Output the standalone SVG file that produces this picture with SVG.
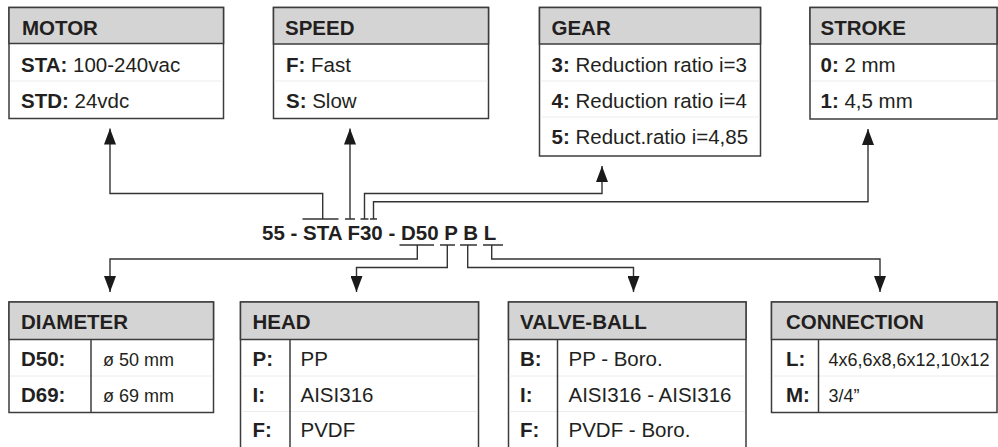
<svg xmlns="http://www.w3.org/2000/svg" width="998" height="447" viewBox="0 0 998 447">
<defs>
<style>
.box{fill:#ffffff;stroke:#3c3c3c;stroke-width:1.5}
.hdr{fill:#d4d4d4;stroke:#3c3c3c;stroke-width:1.5}
.sep{stroke:#ececec;stroke-width:1}
.col{stroke:#3c3c3c;stroke-width:1.5}
.t{font-family:"Liberation Sans",Arial,Helvetica,sans-serif;font-size:20.5px;fill:#231f20}
.b{font-weight:bold}
.s{font-size:18px}
.wire{fill:none;stroke:#333333;stroke-width:1.4}
.bar{fill:none;stroke:#333333;stroke-width:1.4}
</style>
<marker id="arr" markerUnits="userSpaceOnUse" markerWidth="16" markerHeight="12" refX="16" refY="6" orient="auto">
<path d="M0,0 L16,6 L0,12 z" fill="#1a1a1a"/>
</marker>
</defs>
<rect x="0" y="0" width="998" height="447" fill="#ffffff"/>

<g id="motor">
<rect class="box" x="9" y="7.5" width="214.5" height="111"/>
<rect class="hdr" x="9" y="7.5" width="214.5" height="36"/>
<line class="sep" x1="10" y1="81" x2="222.5" y2="81"/>
<text class="t b" x="22" y="35">MOTOR</text>
<text class="t" x="21" y="72"><tspan class="b">STA:</tspan> 100-240vac</text>
<text class="t" x="21" y="107.5"><tspan class="b">STD:</tspan> 24vdc</text>
</g>

<g id="speed">
<rect class="box" x="273.5" y="7.5" width="215" height="111"/>
<rect class="hdr" x="273.5" y="7.5" width="215" height="36.5"/>
<line class="sep" x1="274.5" y1="81" x2="487.5" y2="81"/>
<text class="t b" x="285" y="35">SPEED</text>
<text class="t" x="286" y="72"><tspan class="b">F:</tspan> Fast</text>
<text class="t" x="286" y="107.5"><tspan class="b">S:</tspan> Slow</text>
</g>

<g id="gear">
<rect class="box" x="539.5" y="7.5" width="221" height="148.5"/>
<rect class="hdr" x="539.5" y="7.5" width="221" height="36.5"/>
<line class="sep" x1="540.5" y1="81" x2="759.5" y2="81"/>
<line class="sep" x1="540.5" y1="117" x2="759.5" y2="117"/>
<text class="t b" x="551.5" y="35">GEAR</text>
<text class="t" x="551.5" y="72"><tspan class="b">3:</tspan> Reduction ratio i=3</text>
<text class="t" x="551.5" y="107.5"><tspan class="b">4:</tspan> Reduction ratio i=4</text>
<text class="t" x="551.5" y="143.5"><tspan class="b">5:</tspan> Reduct.ratio i=4,85</text>
</g>

<g id="stroke">
<rect class="box" x="810" y="7.5" width="187" height="111.5"/>
<rect class="hdr" x="810" y="7.5" width="187" height="36.5"/>
<line class="sep" x1="811" y1="81" x2="996" y2="81"/>
<text class="t b" x="820.5" y="35">STROKE</text>
<text class="t" x="820.5" y="72"><tspan class="b">0:</tspan> 2 mm</text>
<text class="t" x="820.5" y="107.5"><tspan class="b">1:</tspan> 4,5 mm</text>
</g>

<g id="code">
<text class="t b" x="262" y="239.5">55 - STA F30 - D50 P B L</text>
</g>

<g id="connectors">
<path class="bar" d="M302.5,219 H338.5 M345,219 H355 M360.5,219 H368.5 M370,219 H377"/>
<path class="bar" d="M399.5,245 H434 M440,245 H455 M460,245 H477 M483,245 H503"/>
<path class="wire" d="M322.7,219 V193.5 H110 V128.5" marker-end="url(#arr)"/>
<path class="wire" d="M350,219 V128.5" marker-end="url(#arr)"/>
<path class="wire" d="M364.5,219 V193.5 H602 V166" marker-end="url(#arr)"/>
<path class="wire" d="M373.5,219 V201.7 H868 V129" marker-end="url(#arr)"/>
<path class="wire" d="M417.3,245 V259 H110 V292" marker-end="url(#arr)"/>
<path class="wire" d="M447.3,245 V267.5 H356.5 V292" marker-end="url(#arr)"/>
<path class="wire" d="M467.7,245 V267.5 H633.5 V292" marker-end="url(#arr)"/>
<path class="wire" d="M491.7,245 V259 H880 V292" marker-end="url(#arr)"/>
</g>

<g id="diameter">
<rect class="box" x="9" y="302" width="204.5" height="110.5"/>
<rect class="hdr" x="9" y="302" width="204.5" height="37.5"/>
<line class="sep" x1="10" y1="376" x2="212.5" y2="376"/>
<line class="col" x1="91" y1="339.5" x2="91" y2="412.5"/>
<text class="t b" x="21" y="328.5">DIAMETER</text>
<text class="t b" x="21" y="366">D50:</text>
<text class="t b" x="21" y="401.5">D69:</text>
<text class="t s" x="103" y="366">ø 50 mm</text>
<text class="t s" x="103" y="401.5">ø 69 mm</text>
</g>

<g id="head">
<rect class="box" x="240.5" y="302" width="238" height="150"/>
<rect class="hdr" x="240.5" y="302" width="238" height="37.5"/>
<line class="sep" x1="241.5" y1="376" x2="477.5" y2="376"/>
<line class="sep" x1="241.5" y1="411.5" x2="477.5" y2="411.5"/>
<line class="col" x1="290" y1="339.5" x2="290" y2="452"/>
<text class="t b" x="252.5" y="328.5">HEAD</text>
<text class="t b" x="252.5" y="366">P:</text>
<text class="t b" x="252.5" y="401.5">I:</text>
<text class="t b" x="252.5" y="437">F:</text>
<text class="t" x="300.5" y="366">PP</text>
<text class="t" x="300.5" y="401.5">AISI316</text>
<text class="t" x="300.5" y="437">PVDF</text>
</g>

<g id="valve-ball">
<rect class="box" x="508.5" y="302" width="237.5" height="150"/>
<rect class="hdr" x="508.5" y="302" width="237.5" height="37.5"/>
<line class="sep" x1="509.5" y1="376" x2="745" y2="376"/>
<line class="sep" x1="509.5" y1="411.5" x2="745" y2="411.5"/>
<line class="col" x1="557.5" y1="339.5" x2="557.5" y2="452"/>
<text class="t b" x="520" y="328.5">VALVE-BALL</text>
<text class="t b" x="520" y="366">B:</text>
<text class="t b" x="520" y="401.5">I:</text>
<text class="t b" x="520" y="437">F:</text>
<text class="t" x="568.5" y="366">PP - Boro.</text>
<text class="t" x="568.5" y="401.5">AISI316 - AISI316</text>
<text class="t" x="568.5" y="437">PVDF - Boro.</text>
</g>

<g id="connection">
<rect class="box" x="771.5" y="302" width="225.5" height="110.5"/>
<rect class="hdr" x="771.5" y="302" width="225.5" height="37.5"/>
<line class="sep" x1="772.5" y1="376" x2="996" y2="376"/>
<line class="col" x1="818.5" y1="339.5" x2="818.5" y2="412.5"/>
<text class="t b" x="786" y="328.5">CONNECTION</text>
<text class="t b" x="786" y="366">L:</text>
<text class="t b" x="786" y="401.5">M:</text>
<text class="t s" x="828.5" y="366">4x6,6x8,6x12,10x12</text>
<text class="t s" x="828.5" y="401.5">3/4”</text>
</g>
</svg>
